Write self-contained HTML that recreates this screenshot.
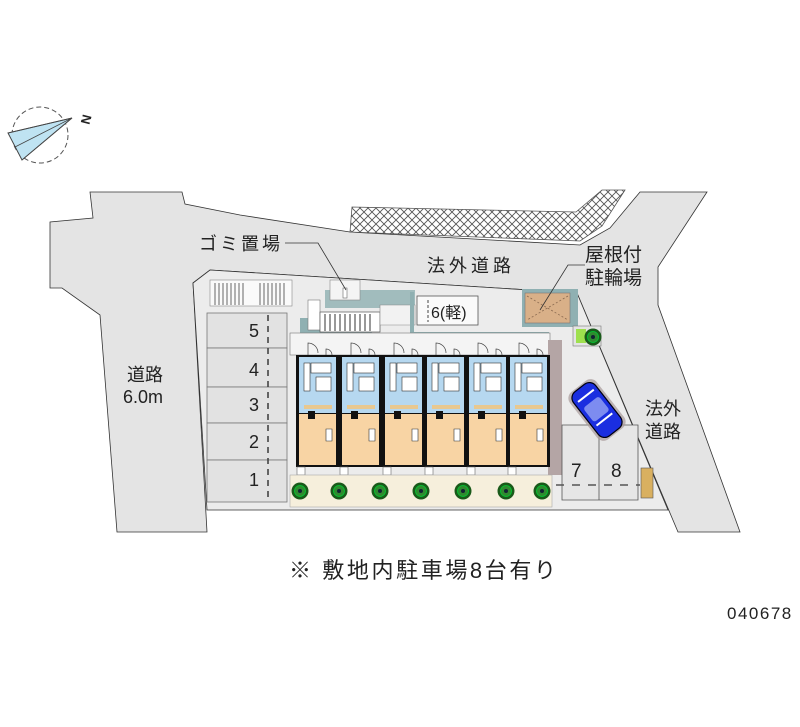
<!DOCTYPE html>
<html><head><meta charset="utf-8"><style>
html,body{margin:0;padding:0;background:#fff;}
svg{display:block;}
text{font-family:"Liberation Sans","Noto Sans CJK JP",sans-serif;fill:#222;}
</style></head><body>
<svg width="800" height="727" viewBox="0 0 800 727" xmlns="http://www.w3.org/2000/svg">
<defs>
<pattern id="hx" width="8" height="8" patternUnits="userSpaceOnUse">
<rect width="8" height="8" fill="#fff"/>
<path d="M0 0L8 8M8 0L0 8" stroke="#555" stroke-width="0.9"/>
</pattern>
<g id="unit">
<rect x="0" y="22" width="43" height="112" fill="#111"/>
<rect x="3" y="24" width="37" height="56" fill="#b6d8f0"/>
<rect x="3" y="81" width="37" height="51" fill="#f8d4a4"/>
<rect x="15" y="30" width="20" height="10" fill="#fff" stroke="#333" stroke-width="0.6"/>
<rect x="20" y="44" width="15" height="14" fill="#fff" stroke="#333" stroke-width="0.6"/>
<rect x="8" y="30" width="6" height="28" fill="#fff" stroke="#333" stroke-width="0.6"/>
<rect x="8" y="72" width="28" height="4" fill="#e8c890"/>
<rect x="12" y="78" width="7" height="8" fill="#111"/>
<path d="M30 96h6v12h-6z" fill="#fff" stroke="#333" stroke-width="0.6"/>
<path d="M12 22v-12a10 10 0 0 1 10 10" fill="none" stroke="#444" stroke-width="0.7"/>
<path d="M30 22v-6a6 6 0 0 1 6 6" fill="none" stroke="#444" stroke-width="0.7"/>
<rect x="1" y="134" width="8" height="8" fill="#fff" stroke="#666" stroke-width="0.6"/>
</g>
<g id="tree"><circle r="8.5" fill="#1a5a1a"/><circle r="5.5" fill="#2f8a2f" stroke="#0c3" stroke-width="0.8"/><circle r="2" fill="#123"/></g>
</defs>

<circle cx="40" cy="135" r="28" fill="none" stroke="#555" stroke-width="1" stroke-dasharray="5,3"/>
<path d="M8 133L72 118L22 160Z" fill="#bfe3f2" stroke="#444" stroke-width="1"/>
<path d="M8 133L72 118M22 160L72 118M15 147L72 118" stroke="#444" stroke-width="0.8"/>
<text x="80" y="123" font-size="13" font-weight="bold" transform="rotate(-75 86 118)">N</text>

<path d="M90 192L93 218L50 222L50 288L62 288L100 315L117 532L207 532L193 283L210 270L577 293L678 532L740 532L658 305L658 267L707 192L640 192L610 228L580 245L350 232L240 215L185 204L182 192Z" fill="#e4e4e4" stroke="#333" stroke-width="0.8"/>
<path d="M350 232L352 207L576 212L602 190L625 190L602 226L580 241Z" fill="url(#hx)" stroke="#555" stroke-width="0.8"/>

<path d="M193 283L210 270L577 293L668 510L207 510Z" fill="#ececec" stroke="#333" stroke-width="0.8"/>
<rect x="210" y="280" width="82" height="26" fill="#fafafa" stroke="#888" stroke-width="0.6"/>
<g stroke="#666" stroke-width="1">
<path d="M215 283v22M219 283v22M223 283v22M227 283v22M231 283v22M235 283v22M239 283v22M243 283v22M260 283v22M264 283v22M268 283v22M272 283v22M276 283v22M280 283v22M284 283v22"/>
</g>
<g fill="#e2e2e2" stroke="#777" stroke-width="0.8">
<rect x="207" y="313" width="80" height="35"/>
<rect x="207" y="348" width="80" height="39"/>
<rect x="207" y="387" width="80" height="36"/>
<rect x="207" y="423" width="80" height="37"/>
<rect x="207" y="460" width="80" height="42"/>
</g>
<path d="M268 315V502" stroke="#444" stroke-width="1.6" stroke-dasharray="6,5"/>
<g font-size="18"><text x="249" y="337">5</text><text x="249" y="376">4</text><text x="249" y="411">3</text><text x="249" y="448">2</text><text x="249" y="486">1</text></g>

<path d="M300 318h80l-10 18h-70z" fill="#8fb0b2"/>
<path d="M325 290h90v18h-90z" fill="#8fb0b2" opacity="0.8"/>
<rect x="308" y="300" width="12" height="30" fill="#fff" stroke="#777" stroke-width="0.6"/>
<rect x="320" y="312" width="60" height="20" fill="#fff" stroke="#555" stroke-width="0.7"/>
<g stroke="#333" stroke-width="1"><path d="M325 314v17M330 314v17M335 314v17M340 314v17M345 314v17M350 314v17M355 314v17M360 314v17M365 314v17M370 314v17"/></g>
<rect x="330" y="280" width="30" height="20" fill="#f4f4f4" stroke="#888" stroke-width="0.6"/>
<rect x="343" y="288" width="4" height="10" fill="#fff" stroke="#666" stroke-width="0.6"/>
<path d="M380 305h35v20h-35z" fill="#f2f2f2" stroke="#888" stroke-width="0.6"/>
<path d="M412 292v42h135v14" fill="none" stroke="#8fb0b2" stroke-width="4"/>
<rect x="417" y="296" width="61" height="29" fill="#fafafa" stroke="#555" stroke-width="0.8"/>
<path d="M428 300v22" stroke="#444" stroke-dasharray="3,2"/>
<text x="431" y="318" font-size="16">6(軽)</text>
<rect x="522" y="289" width="56" height="38" fill="#8fb0b2"/>
<rect x="525" y="293" width="45" height="30" fill="#d9b088" stroke="#777" stroke-width="0.6"/>
<path d="M527 296L568 320M568 296L527 320" stroke="#8a6a50" stroke-width="0.8" stroke-dasharray="2,2"/>
<rect x="573" y="326" width="28" height="20" fill="#e4e4e4" stroke="#777" stroke-width="0.6"/>
<rect x="576" y="329" width="10" height="14" fill="#9ee04e"/>
<use href="#tree" x="593" y="337"/>

<rect x="290" y="333" width="260" height="22" fill="#f4f4f4" stroke="#777" stroke-width="0.6"/>
<rect x="548" y="340" width="14" height="135" fill="#b4a5a5"/>
<use href="#unit" x="296" y="333"/>
<use href="#unit" x="339" y="333"/>
<use href="#unit" x="382" y="333"/>
<use href="#unit" x="424" y="333"/>
<use href="#unit" x="466" y="333"/>
<use href="#unit" x="507" y="333"/>
<rect x="290" y="475" width="262" height="32" fill="#f6efdc" stroke="#aaa" stroke-width="0.6"/>
<use href="#tree" x="300" y="491"/><use href="#tree" x="339" y="491"/><use href="#tree" x="380" y="491"/><use href="#tree" x="421" y="491"/><use href="#tree" x="463" y="491"/><use href="#tree" x="506" y="491"/><use href="#tree" x="542" y="491"/>

<path d="M562 425H638V500H562Z" fill="#e6e6e6" stroke="#555" stroke-width="0.8"/>
<path d="M599 425V500" stroke="#555" stroke-width="0.8"/>
<path d="M556 485H640" stroke="#555" stroke-width="1.5" stroke-dasharray="8,8"/>
<text x="571" y="477" font-size="19">7</text><text x="611" y="477" font-size="19">8</text>
<rect x="641" y="468" width="12" height="30" fill="#d9b060" stroke="#555" stroke-width="0.6"/>
<g transform="translate(597 410) rotate(52)">
<rect x="-30" y="-17" width="60" height="34" rx="8" fill="#a89a9a" opacity="0.7"/>
<rect x="-28" y="-14" width="56" height="28" rx="8" fill="#1a2ee0" stroke="#001" stroke-width="1.2"/>
<rect x="-10" y="-10" width="18" height="20" rx="3" fill="#7d8cf0"/>
<path d="M-18 -10v20M12 -10v20" stroke="#fff" stroke-width="2"/>
</g>

<path d="M285 243H318L346 290" fill="none" stroke="#333" stroke-width="0.8"/>
<text x="199" y="250" font-size="18" letter-spacing="3">ゴミ置場</text>
<text x="427" y="272" font-size="18" letter-spacing="4">法外道路</text>
<path d="M585 265H568L540 310" fill="none" stroke="#333" stroke-width="0.8"/>
<text x="585" y="261" font-size="19">屋根付</text>
<text x="585" y="284" font-size="19">駐輪場</text>
<text x="645" y="415" font-size="18">法外</text>
<text x="645" y="438" font-size="18">道路</text>
<text x="127" y="381" font-size="18">道路</text>
<text x="123" y="403" font-size="18">6.0m</text>
<text x="289" y="578" font-size="22" letter-spacing="2.6">※ 敷地内駐車場8台有り</text>
<text x="727" y="619" font-size="17" letter-spacing="1.5">040678</text>
</svg>
</body></html>
